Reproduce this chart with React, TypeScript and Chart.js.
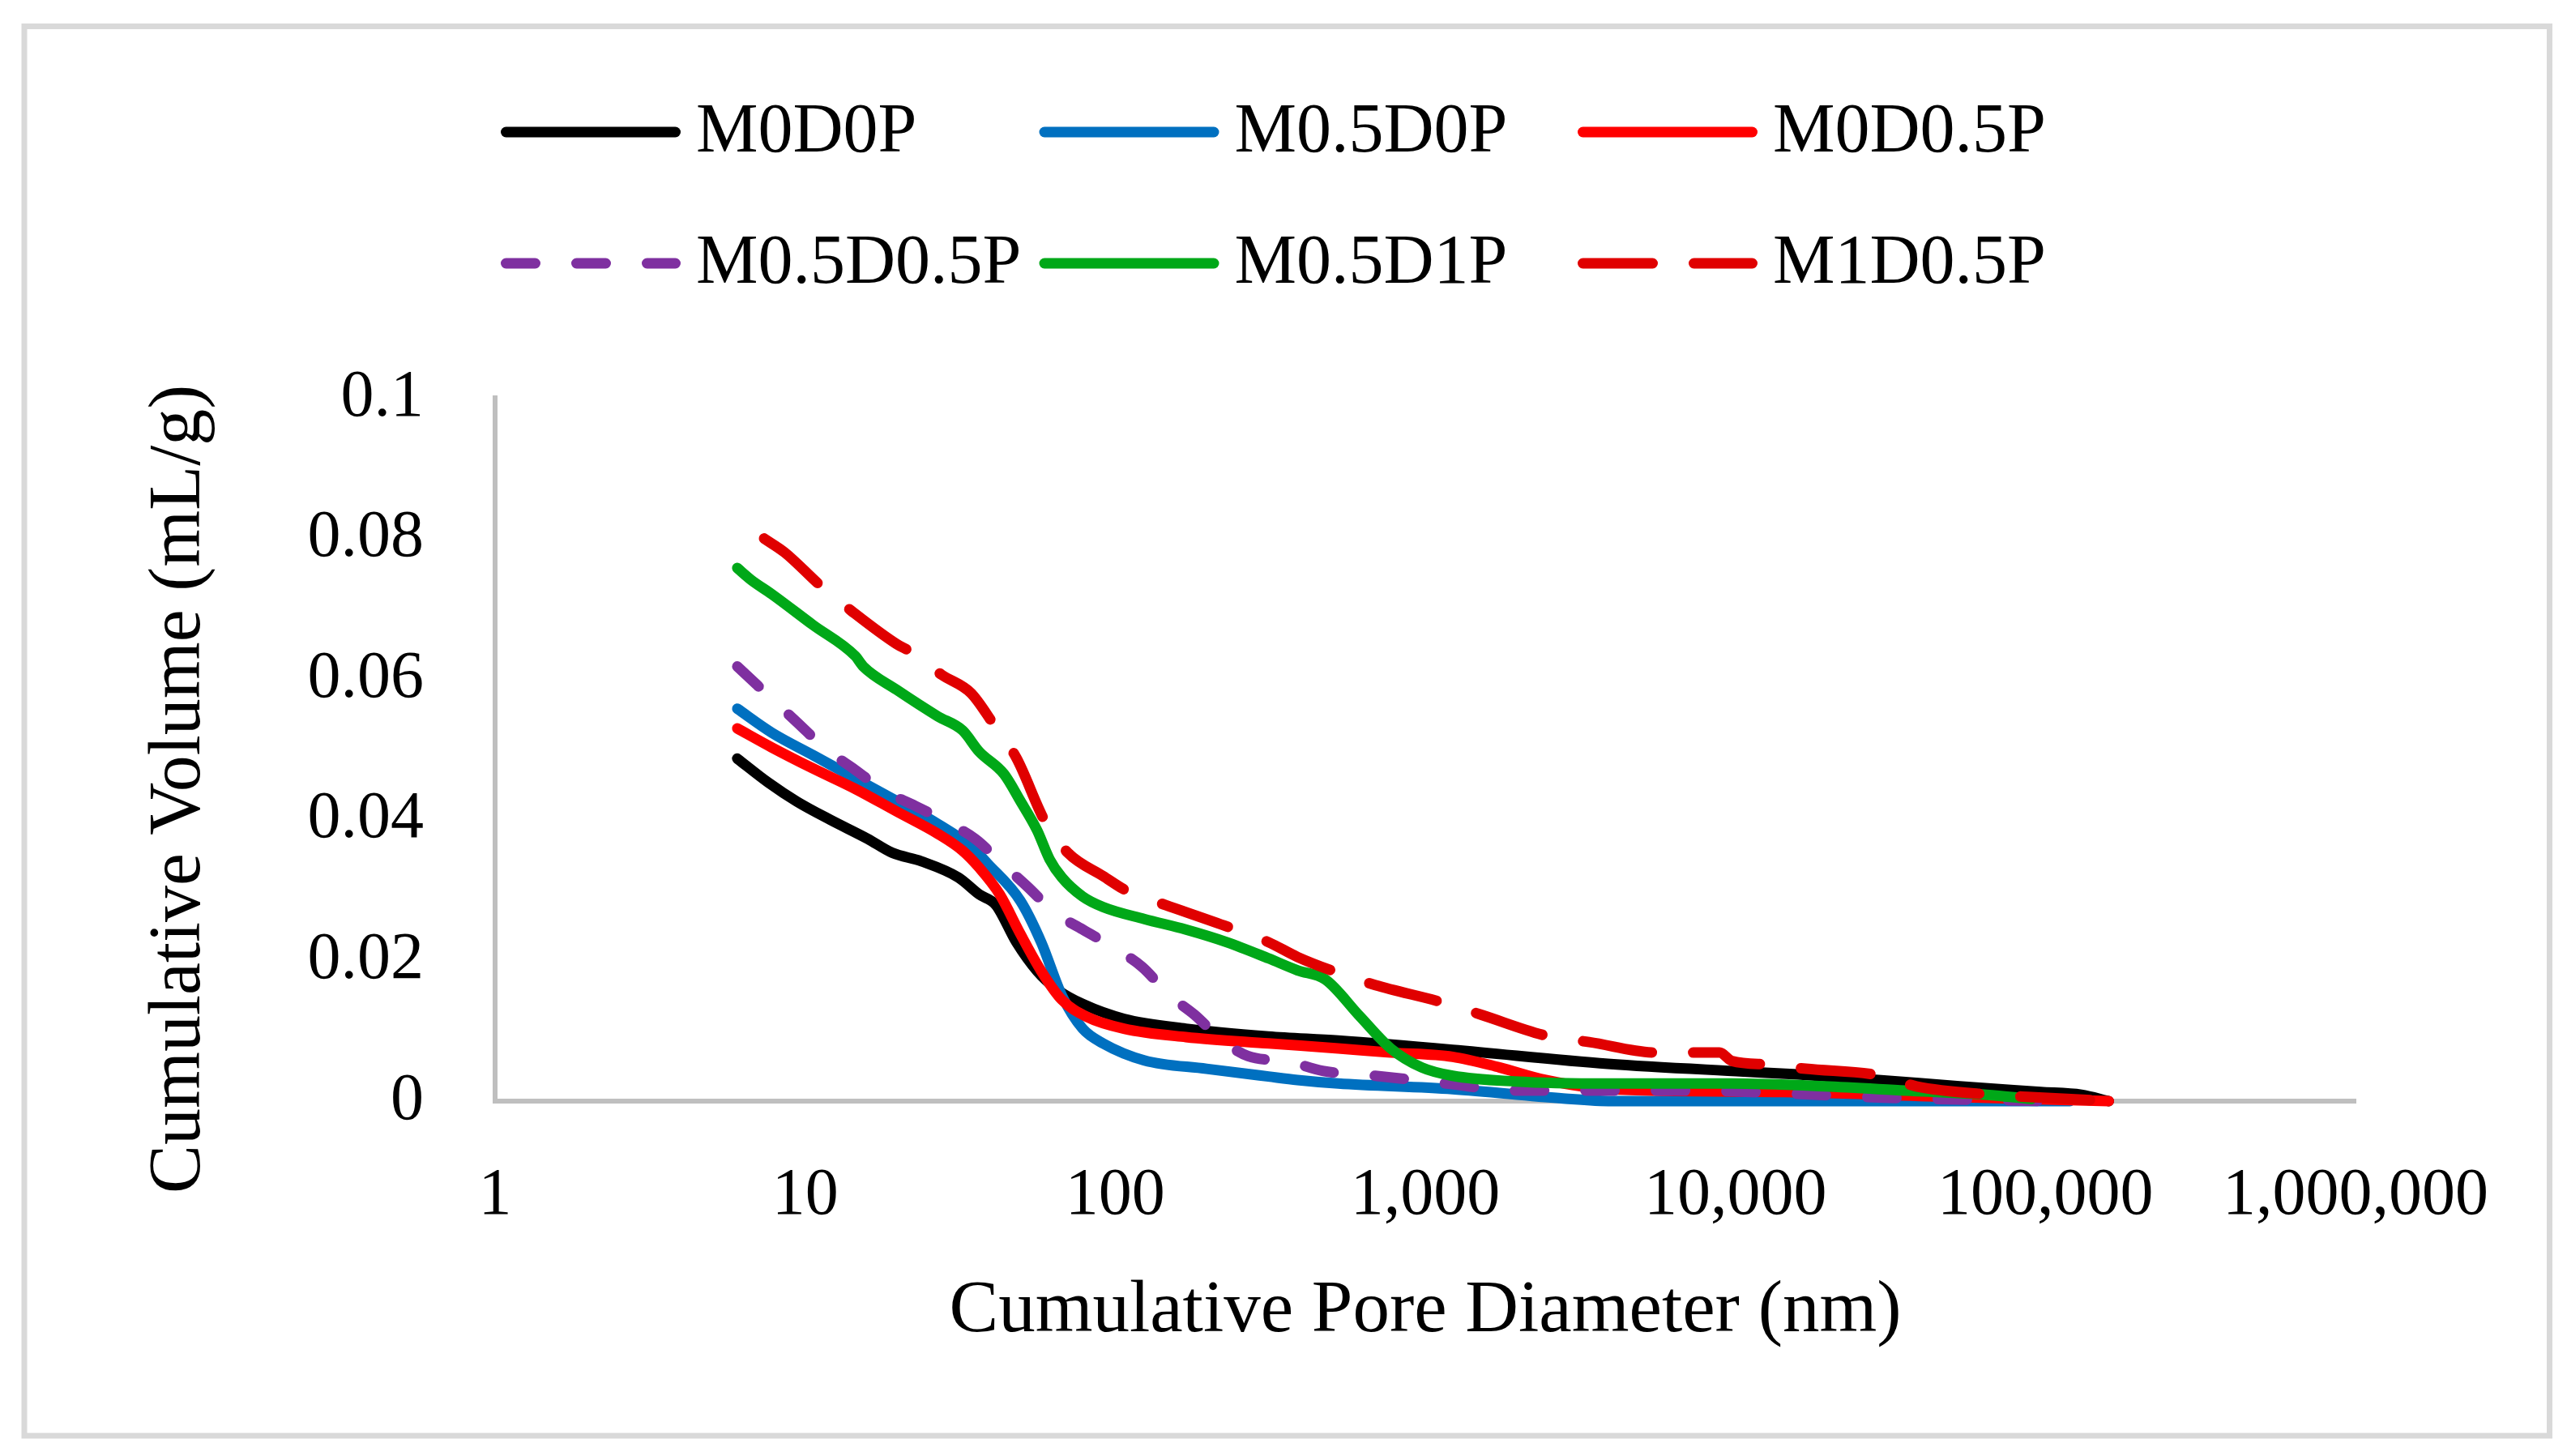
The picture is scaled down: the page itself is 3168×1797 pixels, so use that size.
import React, { useEffect, useRef } from "react";
import { Chart, registerables } from "chart.js";

Chart.register(...registerables);

const FONT = "'Liberation Serif', 'Times New Roman', serif";

const seriesNames = ["M0D0P", "M0.5D0P", "M0D0.5P", "M0.5D0.5P", "M0.5D1P", "M1D0.5P"];
const seriesColors = ["#000000", "#0070C0", "#FF0000", "#7F30A0", "#00A818", "#E00000"];
const seriesDashes: number[][] = [[], [], [], [36, 51], [], [86, 51]];

const xTicks = [1, 10, 100, 1000, 10000, 100000, 1000000];
const yTicks = [0, 0.02, 0.04, 0.06, 0.08, 0.1];

const diamM0D0P = [6.04, 7.6, 9.4, 12.05, 15.9, 19.1, 23.7, 31.2, 36.4, 41.2, 48, 56, 65.3, 78.6, 106.7, 169, 312, 524, 1225, 3880, 10620, 15860, 28950, 52850, 96600, 130600, 160000];
const volM0D0P = [0.0487, 0.0453, 0.0426, 0.04, 0.0373, 0.0353, 0.0341, 0.0318, 0.0294, 0.0279, 0.0226, 0.0185, 0.0158, 0.0138, 0.0117, 0.0103, 0.0092, 0.0086, 0.0073, 0.0053, 0.0042, 0.0038, 0.003, 0.0021, 0.0013, 0.0009, 0.0];

const diamM05D0P = [6.04, 7.8, 10.6, 14.5, 19.7, 26.8, 34.3, 38.7, 49.4, 57.7, 67.3, 78.5, 91.4, 124, 197, 312, 387, 524, 1225, 2740, 4000, 120000];
const volM05D0P = [0.0558, 0.0524, 0.0492, 0.0459, 0.0427, 0.0394, 0.0362, 0.0338, 0.0285, 0.0226, 0.015, 0.0103, 0.0082, 0.0058, 0.0046, 0.0035, 0.003, 0.0025, 0.0017, 0.0004, 0.0, 0.0];

const diamM0D05P = [6.04, 7.8, 10.6, 14.5, 19.7, 26.8, 32.2, 36.4, 42.4, 49.4, 57.7, 67.3, 80.9, 106.7, 169, 312, 524, 773, 1225, 1733, 2445, 3880, 14350, 50000, 160000];
const volM0D05P = [0.053, 0.0503, 0.0473, 0.0444, 0.0412, 0.038, 0.0356, 0.0332, 0.0294, 0.0238, 0.0185, 0.0144, 0.012, 0.0103, 0.0091, 0.0082, 0.0075, 0.0069, 0.0063, 0.0048, 0.003, 0.0017, 0.0013, 0.0006, 0.0];

const diamM05D05P = [6.04, 9.4, 11.7, 14.5, 18, 22.6, 28.5, 35.3, 43.8, 51.8, 64.2, 78.5, 100, 122, 150, 180, 223, 268, 364, 466, 689, 1170, 1944, 5610, 9530, 30000, 100000];
const volM05D05P = [0.0618, 0.0539, 0.05, 0.0471, 0.0441, 0.042, 0.0397, 0.0373, 0.0335, 0.0306, 0.0267, 0.0244, 0.0217, 0.0191, 0.015, 0.0123, 0.0085, 0.0064, 0.0056, 0.0043, 0.0036, 0.0025, 0.0015, 0.0015, 0.0014, 0.0005, 0.0];

const diamM05D1P = [6.04, 6.7, 7.8, 10.6, 14.5, 15.4, 19.7, 26.8, 32.2, 36.4, 43.8, 49.4, 56, 61.4, 67.3, 78.5, 91.4, 124, 169, 229, 312, 387, 476, 614, 773, 973, 1225, 1944, 3880, 9750, 19400, 35400, 64600, 90000];
const volM05D1P = [0.0758, 0.0741, 0.0721, 0.0677, 0.0633, 0.0618, 0.0585, 0.0547, 0.0527, 0.0497, 0.0465, 0.0427, 0.0385, 0.0344, 0.0318, 0.0291, 0.0276, 0.0259, 0.0244, 0.0226, 0.0203, 0.0186, 0.0173, 0.0121, 0.0075, 0.0048, 0.0036, 0.0028, 0.0025, 0.0025, 0.0021, 0.0015, 0.0009, 0.0003];

const diamM1D05P = [7.37, 8.6, 11.2, 14.1, 19.7, 21.9, 27.6, 34.3, 40.5, 48, 59.5, 70.4, 91.4, 111, 145, 244, 312, 387, 511, 689, 1143, 1510, 2506, 3377, 5610, 8890, 9750, 12850, 16860, 29570, 38370, 67300, 87300, 162500];
const volM1D05P = [0.08, 0.078, 0.0733, 0.0697, 0.065, 0.0639, 0.0606, 0.058, 0.0536, 0.0488, 0.0397, 0.0353, 0.032, 0.0297, 0.0279, 0.0244, 0.0226, 0.0205, 0.0184, 0.0165, 0.014, 0.0123, 0.0092, 0.0084, 0.0069, 0.0069, 0.0057, 0.0052, 0.0046, 0.0036, 0.0021, 0.0009, 0.0006, 0.0];

const seriesDiam = [diamM0D0P, diamM05D0P, diamM0D05P, diamM05D05P, diamM05D1P, diamM1D05P];
const seriesVol = [volM0D0P, volM05D0P, volM0D05P, volM05D05P, volM05D1P, volM1D05P];

const xTitle = "Cumulative Pore Diameter (nm)";
const yTitle = "Cumulative Volume (mL/g)";

const W = 3168;
const H = 1797;

const decorPlugin = {
  id: "decor",
  beforeDraw(chart: any) {
    const ctx = chart.ctx;
    ctx.save();
    ctx.fillStyle = "#FFFFFF";
    ctx.fillRect(0, 0, chart.width, chart.height);
    ctx.strokeStyle = "#D9D9D9";
    ctx.lineWidth = 7;
    ctx.strokeRect(30, 32.5, 3116.5, 1739.5);
    ctx.restore();
  },
  afterDraw(chart: any) {
    const ctx = chart.ctx;
    const area = chart.chartArea;
    ctx.save();
    // axis titles
    ctx.fillStyle = "#000000";
    ctx.font = `91px ${FONT}`;
    ctx.textAlign = "center";
    ctx.textBaseline = "alphabetic";
    ctx.fillText(xTitle, (area.left + area.right) / 2, 1643);
    ctx.save();
    ctx.translate(246, 974);
    ctx.rotate(-Math.PI / 2);
    ctx.font = `90px ${FONT}`;
    ctx.fillText(yTitle, 0, 0);
    ctx.restore();

    // legend
    chart.data.datasets.forEach((ds: any, i: number) => {
      const col = i % 3;
      const row = Math.floor(i / 3);
      const x0 = 618 + col * 664.5;
      const yLine = 163 + row * 162;
      ctx.save();
      ctx.strokeStyle = ds.borderColor;
      ctx.lineWidth = ds.borderWidth;
      ctx.lineCap = "round";
      ctx.setLineDash(ds.borderDash || []);
      ctx.beginPath();
      ctx.moveTo(x0 + 6.5, yLine);
      ctx.lineTo(x0 + 222 - 6.5, yLine);
      ctx.stroke();
      ctx.restore();
      ctx.fillStyle = "#000000";
      ctx.font = `86px ${FONT}`;
      ctx.textAlign = "left";
      ctx.textBaseline = "alphabetic";
      ctx.fillText(ds.label, x0 + 241, 187 + row * 162);
    });
    ctx.restore();
  },
};

export default function App() {
  const canvasRef = useRef<HTMLCanvasElement | null>(null);

  useEffect(() => {
    const canvas = canvasRef.current;
    if (!canvas) return;
    const datasets = seriesNames.map((name, i) => ({
      label: name,
      data: seriesDiam[i].map((d, j) => ({ x: d, y: seriesVol[i][j] })),
      borderColor: seriesColors[i],
      backgroundColor: seriesColors[i],
      borderWidth: 13,
      borderDash: seriesDashes[i],
      borderCapStyle: "round" as const,
      borderJoinStyle: "round" as const,
      pointRadius: 0,
      pointHoverRadius: 0,
      cubicInterpolationMode: "monotone" as const,
      fill: false,
      clip: false as any,
      order: seriesNames.length - 1 - i,
    }));

    const chart = new Chart(canvas, {
      type: "line",
      data: { datasets },
      plugins: [decorPlugin],
      options: {
        animation: false,
        responsive: false,
        devicePixelRatio: 1,
        layout: { padding: { left: 0, right: 261, top: 491, bottom: 0 } },
        plugins: {
          legend: { display: false },
          tooltip: { enabled: false },
          title: { display: false },
        },
        scales: {
          x: {
            type: "logarithmic",
            min: xTicks[0],
            max: xTicks[xTicks.length - 1],
            afterBuildTicks: (scale: any) => {
              scale.ticks = xTicks.map((v) => ({ value: v }));
            },
            afterFit: (scale: any) => {
              scale.height = H - 1359;
            },
            grid: { display: false, drawTicks: false },
            border: { display: true, color: "#BFBFBF", width: 6 },
            ticks: {
              autoSkip: false,
              maxRotation: 0,
              minRotation: 0,
              padding: 68,
              color: "#000000",
              font: { family: FONT, size: 82 },
              callback: (v: any) => Number(v).toLocaleString("en-US"),
            },
          },
          y: {
            type: "linear",
            min: yTicks[0],
            max: yTicks[yTicks.length - 1],
            afterBuildTicks: (scale: any) => {
              scale.ticks = yTicks.map((v) => ({ value: v }));
            },
            afterFit: (scale: any) => {
              scale.width = 611;
            },
            grid: { display: false, drawTicks: false },
            border: { display: true, color: "#BFBFBF", width: 6 },
            ticks: {
              padding: 88,
              color: "#000000",
              font: { family: FONT, size: 82 },
              callback: (v: any) => String(parseFloat(Number(v).toFixed(2))),
            },
          },
        },
      },
    });
    return () => chart.destroy();
  }, []);

  return (
    <div style={{ position: "absolute", left: 0, top: 0, width: W, height: H, background: "#FFFFFF" }}>
      <canvas ref={canvasRef} width={W} height={H} style={{ width: W, height: H, display: "block" }} />
    </div>
  );
}
